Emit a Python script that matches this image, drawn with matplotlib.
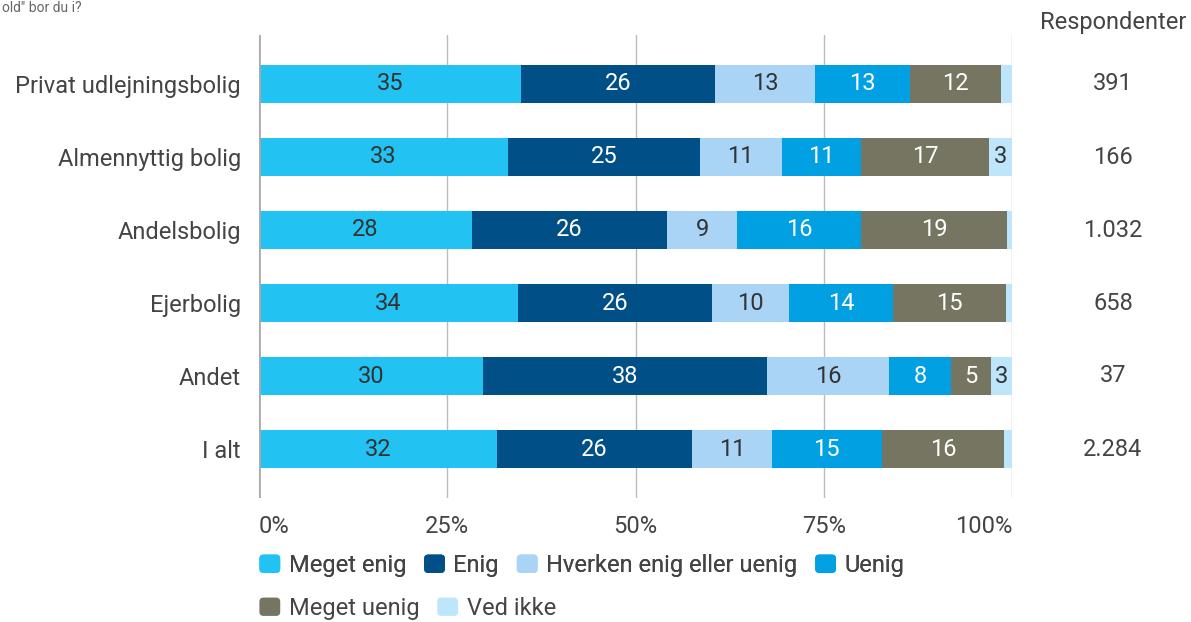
import matplotlib
matplotlib.use("Agg")
import matplotlib.pyplot as plt
from matplotlib.patches import Patch, FancyBboxPatch
from matplotlib.legend_handler import HandlerPatch
import numpy as np

plt.rcParams['font.family'] = ['Roboto', 'DejaVu Sans']

categories = ['Privat udlejningsbolig', 'Almennyttig bolig', 'Andelsbolig',
              'Ejerbolig', 'Andet', 'I alt']
respondents = ['391', '166', '1.032', '658', '37', '2.284']
series = ['Meget enig', 'Enig', 'Hverken enig eller uenig', 'Uenig',
          'Meget uenig', 'Ved ikke']

meget_enig = [34.8, 33.1, 28.3, 34.4, 29.7, 31.6]
enig = [25.8, 25.4, 25.9, 25.8, 37.7, 25.9]
hverken = [13.2, 10.9, 9.3, 10.2, 16.3, 10.6]
uenig = [12.6, 10.6, 16.5, 13.8, 8.2, 14.6]
meget_uenig = [12.2, 17.0, 19.4, 15.0, 5.3, 16.3]
ved_ikke = [1.4, 3.0, 0.6, 0.8, 2.8, 1.0]

colors = ['#22c3f3', '#005087', '#a9d4f5', '#00a0e2', '#767561', '#bde6fb']
text_colors = ['#333333', 'white', '#333333', 'white', 'white', '#333333']
grey = '#444444'
fs = 17

values = [meget_enig, enig, hverken, uenig, meget_uenig, ved_ikke]

fig = plt.figure(figsize=(11.91, 6.22), dpi=100)
ax = fig.add_axes([259 / 1191, 1 - 498 / 622, 753 / 1191, 463 / 622])

y = np.arange(len(categories))
left = np.zeros(len(categories))
for vals, col, tcol, name in zip(values, colors, text_colors, series):
    vals = np.array(vals)
    ax.barh(y, vals, left=left, height=0.52, color=col, label=name, zorder=3)
    for yi, (l, v) in enumerate(zip(left, vals)):
        if v >= 2.5:
            ax.text(l + v / 2, yi, f'{round(v)}', ha='center', va='center',
                    color=tcol, fontsize=fs, zorder=4)
    left += vals

ax.set_xlim(0, 100)
ax.set_ylim(len(categories) - 0.33, -0.67)
ax.set_yticks(y)
ax.set_yticklabels(categories, fontsize=fs, color=grey)
ax.tick_params(axis='y', length=0, pad=13)
ax.set_xticks([0, 25, 50, 75, 100])
ax.set_xticklabels(['0%', '25%', '50%', '75%', '100%'], fontsize=fs, color=grey)
ax.tick_params(axis='x', length=0, pad=12)
xl = ax.get_xticklabels()
xl[0].set_ha('left')
xl[-1].set_ha('right')

for s in ax.spines.values():
    s.set_visible(False)
for xv in [25, 50, 75, 100]:
    ax.axvline(xv, color='#bbbbbb', lw=1, zorder=1)
ax.axvline(0, color='#aaaaaa', lw=2, zorder=5)

# respondent column
for yi, r in enumerate(respondents):
    fig.text(1113 / 1191, 1 - (84 + 73 * yi) / 622, r, ha='center', va='center',
             fontsize=fs, color=grey)
fig.text(1113 / 1191, 1 - 22 / 622, 'Respondenter', ha='center', va='center',
         fontsize=fs, color=grey)
fig.text(0.002, 0.999, 'old" bor du i?', ha='left', va='top', fontsize=10,
         color='#666666')


def rounded(legend, orig_handle, xdescent, ydescent, width, height, fontsize):
    return FancyBboxPatch((-xdescent + 1, -ydescent + 1), width - 2, height - 2,
                          boxstyle='round,pad=0,rounding_size=3')


hmap = {Patch: HandlerPatch(patch_func=rounded)}
handles = [Patch(facecolor=c, edgecolor='none') for c in colors]
legkw = dict(loc='center left', frameon=False, fontsize=fs, handlelength=1.0,
             handleheight=1.0, handletextpad=0.3, columnspacing=0.7,
             labelcolor=grey, borderpad=0, borderaxespad=0, handler_map=hmap)
leg1 = fig.legend(handles[:4], series[:4], ncol=4,
                  bbox_to_anchor=(258 / 1191, 1 - 565 / 622), **legkw)
leg2 = fig.legend(handles[4:], series[4:], ncol=2,
                  bbox_to_anchor=(258 / 1191, 1 - 608 / 622), **legkw)
fig.add_artist(leg1)

fig.savefig('out.png', dpi=100)
